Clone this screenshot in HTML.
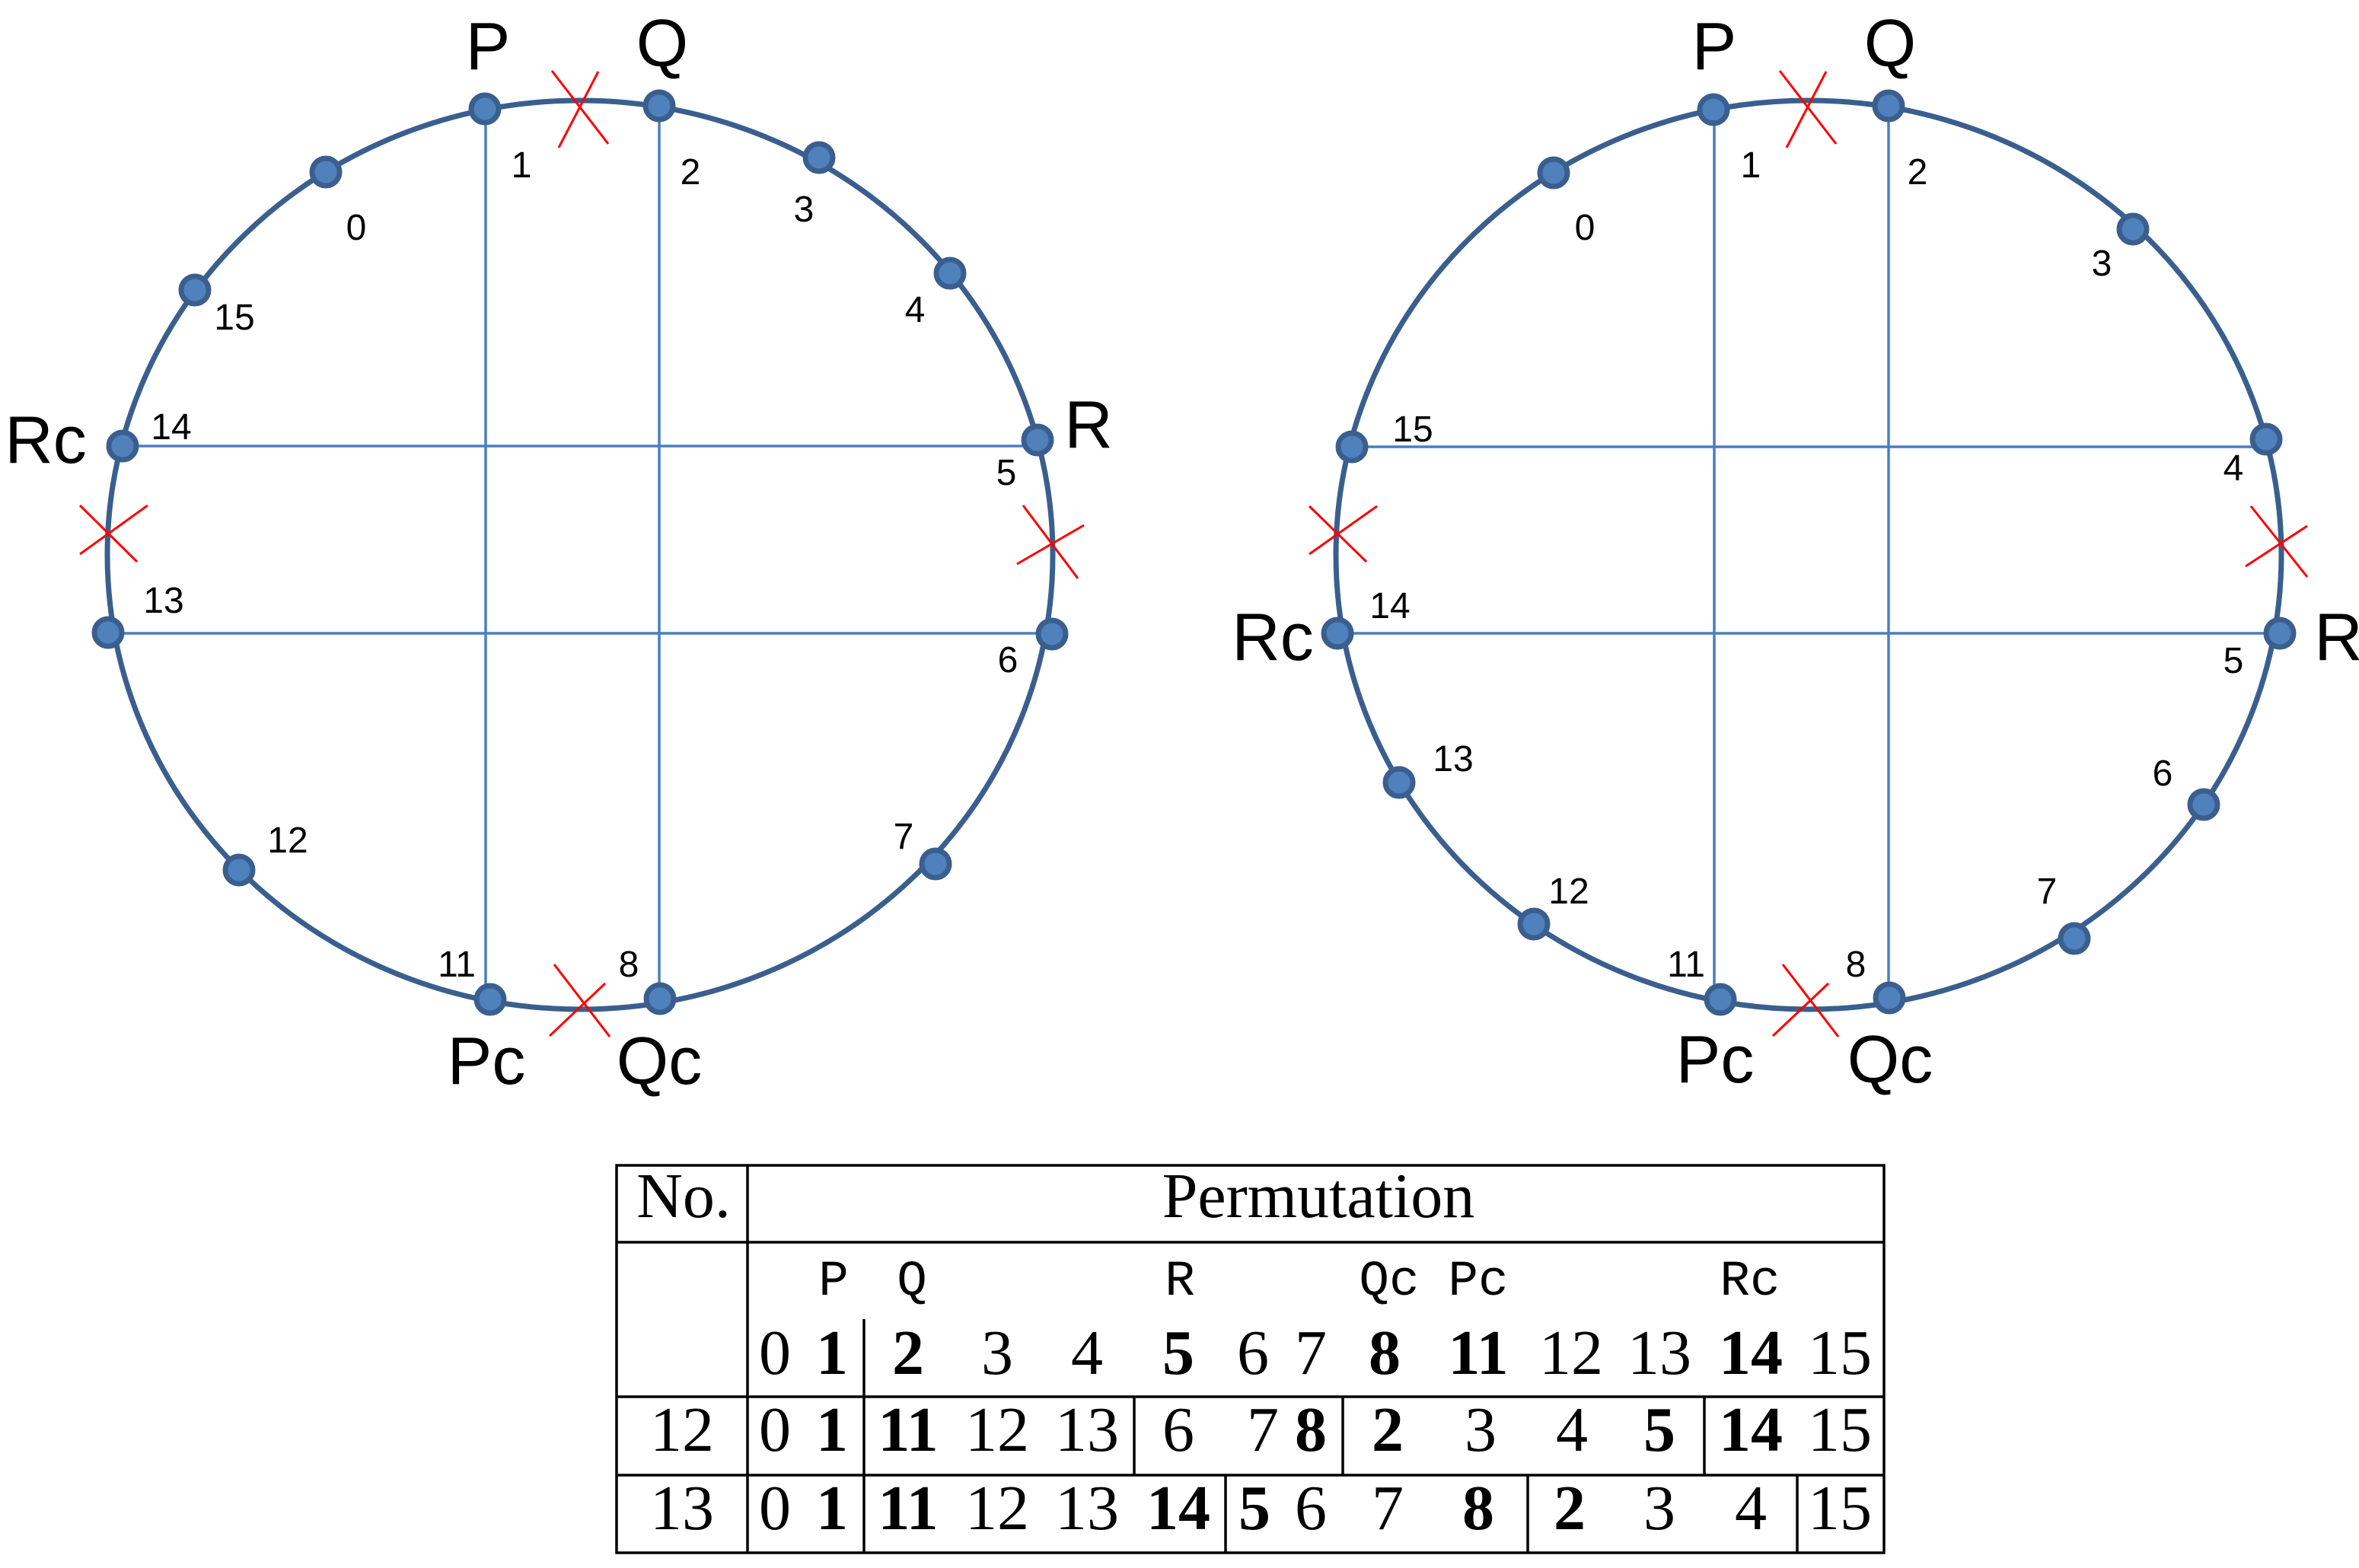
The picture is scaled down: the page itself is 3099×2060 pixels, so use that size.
<!DOCTYPE html>
<html><head><meta charset="utf-8"><style>
html,body{margin:0;padding:0;background:#fff}
svg{display:block}
.n{font-family:"Liberation Sans",sans-serif;font-size:48px;fill:#000;text-anchor:middle}
.b{font-family:"Liberation Sans",sans-serif;font-size:88px;fill:#000;text-anchor:middle}
.t{font-family:"Liberation Serif",serif;font-size:84px;fill:#000;text-anchor:middle}
.tb{font-weight:bold}
.m{font-family:"Liberation Mono",monospace;font-size:66px;fill:#000;text-anchor:middle}
</style></head><body>
<svg width="3099" height="2060" viewBox="0 0 3099 2060" xmlns="http://www.w3.org/2000/svg">
<g>
<ellipse cx="762" cy="729" rx="621" ry="597" fill="none" stroke="#3a5f8e" stroke-width="7"/>
<g stroke="#4a7fbf" stroke-width="3.5">
<line x1="638" y1="143" x2="638" y2="1313"/>
<line x1="866" y1="139" x2="866" y2="1312"/>
<line x1="161" y1="586" x2="1363" y2="586"/>
<line x1="142" y1="832" x2="1382" y2="832"/>
</g>
<g fill="#4f81bd" stroke="#3a5f8e" stroke-width="7">
<circle cx="637" cy="143" r="18"/><circle cx="866" cy="139" r="18"/>
<circle cx="1076" cy="207" r="18"/><circle cx="1248" cy="359" r="18"/>
<circle cx="1363" cy="578" r="18"/><circle cx="1382" cy="833" r="18"/>
<circle cx="1229" cy="1135" r="18"/><circle cx="867" cy="1312" r="18"/>
<circle cx="644" cy="1313" r="18"/><circle cx="314" cy="1143" r="18"/>
<circle cx="142" cy="831" r="18"/><circle cx="161" cy="586" r="18"/>
<circle cx="256" cy="381" r="18"/><circle cx="428" cy="226" r="18"/>
</g>
<g stroke="#ff0000" stroke-width="3">
<line x1="725" y1="93" x2="799" y2="189"/><line x1="786" y1="94" x2="734" y2="194"/>
<line x1="105" y1="664" x2="180" y2="738"/><line x1="194" y1="664" x2="105" y2="728"/>
<line x1="1344" y1="664" x2="1416" y2="760"/><line x1="1424" y1="690" x2="1336" y2="741"/>
<line x1="728" y1="1267" x2="801" y2="1362"/><line x1="795" y1="1292" x2="722" y2="1361"/>
</g>
<text class="b" x="641" y="91">P</text>
<text class="b" x="870" y="87">Q</text>
<text class="b" x="1430" y="588">R</text>
<text class="b" x="60" y="608">Rc</text>
<text class="b" x="639" y="1424">Pc</text>
<text class="b" x="866" y="1424">Qc</text>
<text class="n" x="685" y="233">1</text>
<text class="n" x="907" y="242">2</text>
<text class="n" x="1056" y="291">3</text>
<text class="n" x="1202" y="423">4</text>
<text class="n" x="1322" y="637">5</text>
<text class="n" x="1324" y="883">6</text>
<text class="n" x="1187" y="1115">7</text>
<text class="n" x="826" y="1283">8</text>
<text class="n" x="600" y="1283">11</text>
<text class="n" x="378" y="1120">12</text>
<text class="n" x="215" y="805">13</text>
<text class="n" x="225" y="577">14</text>
<text class="n" x="308" y="433">15</text>
<text class="n" x="468" y="315">0</text>
</g>
<g>
<ellipse cx="2376" cy="729" rx="621" ry="597" fill="none" stroke="#3a5f8e" stroke-width="7"/>
<g stroke="#4a7fbf" stroke-width="3.5">
<line x1="2252" y1="144" x2="2252" y2="1313"/>
<line x1="2481" y1="139" x2="2481" y2="1312"/>
<line x1="1776" y1="587" x2="2977" y2="587"/>
<line x1="1757" y1="832" x2="2995" y2="832"/>
</g>
<g fill="#4f81bd" stroke="#3a5f8e" stroke-width="7">
<circle cx="2251" cy="144" r="18"/><circle cx="2481" cy="139" r="18"/>
<circle cx="2041" cy="227" r="18"/><circle cx="2802" cy="301" r="18"/>
<circle cx="2977" cy="577" r="18"/><circle cx="2995" cy="832" r="18"/>
<circle cx="2895" cy="1057" r="18"/><circle cx="2725" cy="1233" r="18"/>
<circle cx="2482" cy="1311" r="18"/><circle cx="2260" cy="1313" r="18"/>
<circle cx="2015" cy="1214" r="18"/><circle cx="1838" cy="1028" r="18"/>
<circle cx="1757" cy="832" r="18"/><circle cx="1776" cy="587" r="18"/>
</g>
<g stroke="#ff0000" stroke-width="3">
<line x1="2338" y1="93" x2="2412" y2="189"/><line x1="2399" y1="94" x2="2347" y2="194"/>
<line x1="1720" y1="665" x2="1795" y2="738"/><line x1="1809" y1="665" x2="1720" y2="728"/>
<line x1="2957" y1="665" x2="3031" y2="758"/><line x1="3031" y1="691" x2="2950" y2="744"/>
<line x1="2342" y1="1267" x2="2415" y2="1362"/><line x1="2402" y1="1292" x2="2329" y2="1361"/>
</g>
<text class="b" x="2252" y="91">P</text>
<text class="b" x="2483" y="87">Q</text>
<text class="b" x="3072" y="867">R</text>
<text class="b" x="1672" y="867">Rc</text>
<text class="b" x="2253" y="1422">Pc</text>
<text class="b" x="2483" y="1422">Qc</text>
<text class="n" x="2300" y="233">1</text>
<text class="n" x="2519" y="242">2</text>
<text class="n" x="2082" y="315">0</text>
<text class="n" x="2761" y="362">3</text>
<text class="n" x="2934" y="631">4</text>
<text class="n" x="1856" y="580">15</text>
<text class="n" x="1826" y="812">14</text>
<text class="n" x="2934" y="884">5</text>
<text class="n" x="1909" y="1013">13</text>
<text class="n" x="2841" y="1032">6</text>
<text class="n" x="2061" y="1187">12</text>
<text class="n" x="2689" y="1187">7</text>
<text class="n" x="2215" y="1283">11</text>
<text class="n" x="2438" y="1283">8</text>
</g>
<g stroke="#000" stroke-width="3.5" fill="none">
<rect x="810" y="1531" width="1665" height="509"/>
<line x1="810" y1="1632" x2="2475" y2="1632"/>
<line x1="810" y1="1835" x2="2475" y2="1835"/>
<line x1="810" y1="1938" x2="2475" y2="1938"/>
<line x1="982" y1="1531" x2="982" y2="2040"/>
<line x1="1135" y1="1733" x2="1135" y2="2040"/>
<line x1="1490" y1="1835" x2="1490" y2="1938"/>
<line x1="1764" y1="1835" x2="1764" y2="1938"/>
<line x1="2239" y1="1835" x2="2239" y2="1938"/>
<line x1="1610" y1="1938" x2="1610" y2="2040"/>
<line x1="2007" y1="1938" x2="2007" y2="2040"/>
<line x1="2361" y1="1938" x2="2361" y2="2040"/>
</g>
<text class="t" x="898" y="1599">No.</text>
<text class="t" x="1732" y="1599">Permutation</text>
<text class="m" x="1095" y="1701">P</text>
<text class="m" x="1198" y="1701">Q</text>
<text class="m" x="1550" y="1701">R</text>
<text class="m" x="1825" y="1701">Qc</text>
<text class="m" x="1942" y="1701">Pc</text>
<text class="m" x="2299" y="1701">Rc</text>
<g>
<text class="t" x="1018" y="1805">0</text><text class="t tb" x="1093" y="1805">1</text>
<text class="t tb" x="1193" y="1805">2</text><text class="t" x="1310" y="1805">3</text>
<text class="t" x="1428" y="1805">4</text><text class="t tb" x="1548" y="1805">5</text>
<text class="t" x="1646" y="1805">6</text><text class="t" x="1722" y="1805">7</text>
<text class="t tb" x="1819" y="1805">8</text><text class="t tb" x="1942" y="1805">11</text>
<text class="t" x="2064" y="1805">12</text><text class="t" x="2180" y="1805">13</text>
<text class="t tb" x="2300" y="1805">14</text><text class="t" x="2417" y="1805">15</text>

<text class="t" x="896" y="1906">12</text>
<text class="t" x="1018" y="1906">0</text><text class="t tb" x="1093" y="1906">1</text>
<text class="t tb" x="1193" y="1906">11</text><text class="t" x="1310" y="1906">12</text>
<text class="t" x="1428" y="1906">13</text><text class="t" x="1548" y="1906">6</text>
<text class="t" x="1659" y="1906">7</text><text class="t tb" x="1722" y="1906">8</text>
<text class="t tb" x="1823" y="1906">2</text><text class="t" x="1945" y="1906">3</text>
<text class="t" x="2065" y="1906">4</text><text class="t tb" x="2180" y="1906">5</text>
<text class="t tb" x="2300" y="1906">14</text><text class="t" x="2417" y="1906">15</text>

<text class="t" x="896" y="2009">13</text>
<text class="t" x="1018" y="2009">0</text><text class="t tb" x="1093" y="2009">1</text>
<text class="t tb" x="1193" y="2009">11</text><text class="t" x="1310" y="2009">12</text>
<text class="t" x="1428" y="2009">13</text><text class="t tb" x="1548" y="2009">14</text>
<text class="t tb" x="1648" y="2009">5</text><text class="t" x="1722" y="2009">6</text>
<text class="t" x="1823" y="2009">7</text><text class="t tb" x="1942" y="2009">8</text>
<text class="t tb" x="2062" y="2009">2</text><text class="t" x="2180" y="2009">3</text>
<text class="t" x="2300" y="2009">4</text><text class="t" x="2417" y="2009">15</text>
</g>
</svg>
</body></html>
